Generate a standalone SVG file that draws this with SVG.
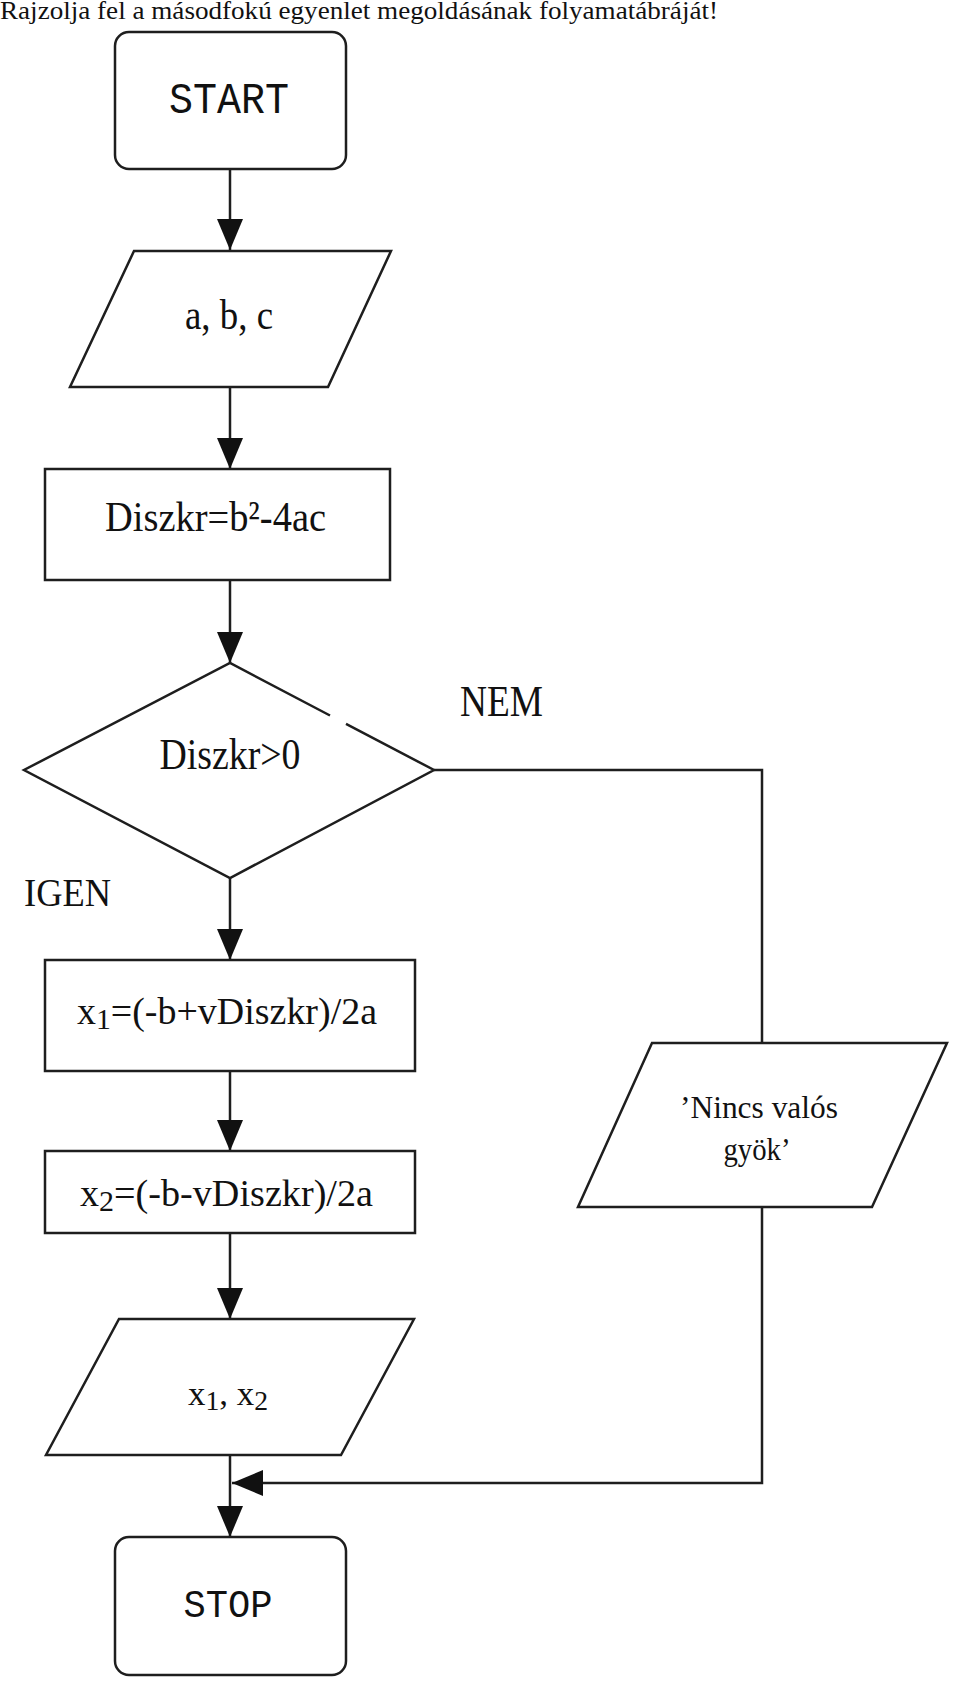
<svg xmlns="http://www.w3.org/2000/svg" width="960" height="1692" viewBox="0 0 960 1692">
<style>
.sh{fill:#fff;stroke:#1e1e1e;stroke-width:2.5}
.ln{fill:none;stroke:#1e1e1e;stroke-width:2.5}
.t{font-family:"Liberation Serif","Times New Roman",serif;fill:#111}
.m{font-family:"Liberation Mono","Courier New",monospace;fill:#111}
</style>
<defs>
<marker id="ah" markerUnits="userSpaceOnUse" markerWidth="32" markerHeight="28" refX="31" refY="13" orient="auto" viewBox="0 0 32 28">
<path d="M0,0 L31,13 L0,26 z" fill="#111"/>
</marker>
</defs>
<rect width="960" height="1692" fill="#fff"/>
<text class="t" x="0" y="19" font-size="25" textLength="718" lengthAdjust="spacingAndGlyphs">Rajzolja fel a másodfokú egyenlet megoldásának folyamatábráját!</text>

<g id="connectors">
<line class="ln" x1="230" y1="169" x2="230" y2="250" marker-end="url(#ah)"/>
<line class="ln" x1="230" y1="387" x2="230" y2="469" marker-end="url(#ah)"/>
<line class="ln" x1="230" y1="580" x2="230" y2="663" marker-end="url(#ah)"/>
<line class="ln" x1="230" y1="878" x2="230" y2="960" marker-end="url(#ah)"/>
<line class="ln" x1="230" y1="1071" x2="230" y2="1151" marker-end="url(#ah)"/>
<line class="ln" x1="230" y1="1233" x2="230" y2="1319" marker-end="url(#ah)"/>
<line class="ln" x1="230" y1="1455" x2="230" y2="1537" marker-end="url(#ah)"/>
<polyline class="ln" points="434,770 762,770 762,1043"/>
<polyline class="ln" points="762,1207 762,1483 232,1483" marker-end="url(#ah)"/>
</g>

<g id="start">
<rect class="sh" x="115" y="32" width="231" height="137" rx="14"/>
<text class="m" x="229" y="113" font-size="45" text-anchor="middle" textLength="120" lengthAdjust="spacingAndGlyphs">START</text>
</g>

<g id="input">
<polygon class="sh" points="134,251 391,251 328,387 70,387"/>
<text class="t" x="229" y="329" font-size="42" text-anchor="middle" textLength="88" lengthAdjust="spacingAndGlyphs">a, b, c</text>
</g>

<g id="discriminant">
<rect class="sh" x="45" y="469" width="345" height="111"/>
<text class="t" x="105" y="531" font-size="43" textLength="221" lengthAdjust="spacingAndGlyphs">Diszkr=b²-4ac</text>
</g>

<g id="decision">
<polygon points="230,663 434,770 230,878 24,770" fill="#fff"/>
<path class="ln" d="M330,715.5 L230,663 L24,770 L230,878 L434,770 L346,723.8"/>
<text class="t" x="230" y="769" font-size="44" text-anchor="middle" textLength="141" lengthAdjust="spacingAndGlyphs">Diszkr&gt;0</text>
<text class="t" x="460" y="716" font-size="44" textLength="83" lengthAdjust="spacingAndGlyphs">NEM</text>
<text class="t" x="24" y="906" font-size="40" textLength="87" lengthAdjust="spacingAndGlyphs">IGEN</text>
</g>

<g id="x1">
<rect class="sh" x="45" y="960" width="370" height="111"/>
<text class="t" x="77" y="1024" font-size="37" textLength="300" lengthAdjust="spacingAndGlyphs">x<tspan dy="5" font-size="29">1</tspan><tspan dy="-5">=(-b+vDiszkr)/2a</tspan></text>
</g>

<g id="x2">
<rect class="sh" x="45" y="1151" width="370" height="82"/>
<text class="t" x="80" y="1206" font-size="37" textLength="293" lengthAdjust="spacingAndGlyphs">x<tspan dy="5" font-size="29">2</tspan><tspan dy="-5">=(-b-vDiszkr)/2a</tspan></text>
</g>

<g id="output">
<polygon class="sh" points="119,1319 414,1319 341,1455 46,1455"/>
<text class="t" x="188" y="1405" font-size="34" textLength="80" lengthAdjust="spacingAndGlyphs">x<tspan dy="5" font-size="27">1</tspan><tspan dy="-5">, x</tspan><tspan dy="5" font-size="27">2</tspan></text>
</g>

<g id="noroot">
<polygon class="sh" points="652,1043 947,1043 872,1207 578,1207"/>
<text class="t" x="759" y="1118" font-size="31" text-anchor="middle" textLength="158" lengthAdjust="spacingAndGlyphs">’Nincs valós</text>
<text class="t" x="757" y="1160" font-size="31" text-anchor="middle" textLength="67" lengthAdjust="spacingAndGlyphs">gyök’</text>
</g>

<g id="stop">
<rect class="sh" x="115" y="1537" width="231" height="138" rx="14"/>
<text class="m" x="228" y="1617" font-size="39" text-anchor="middle" textLength="89" lengthAdjust="spacingAndGlyphs">STOP</text>
</g>
</svg>
